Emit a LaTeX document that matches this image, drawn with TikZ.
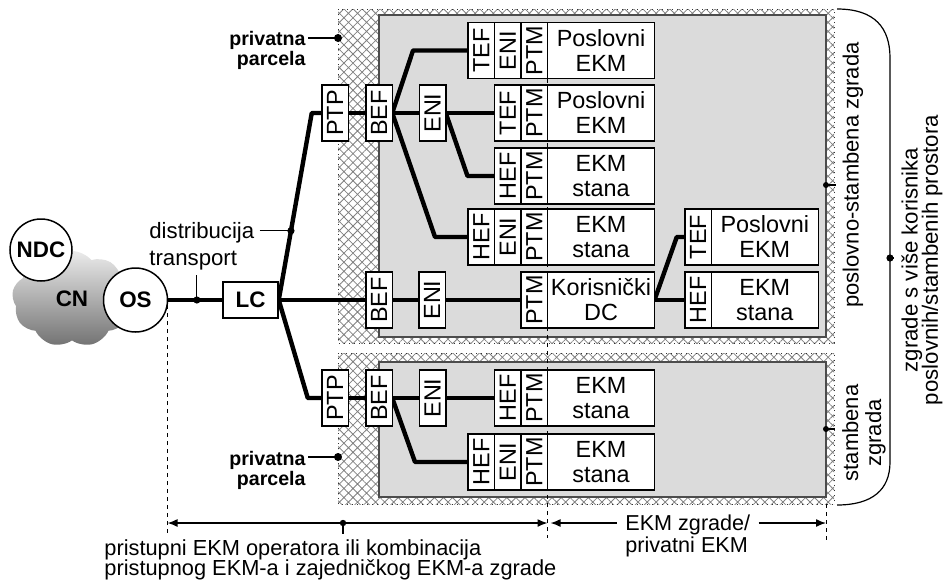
\documentclass[tikz,border=0pt]{standalone}
\usepackage{fontspec}
\setmainfont{Liberation Sans}
\usepackage{graphicx}
\usetikzlibrary{arrows.meta,positioning,shapes.symbols,patterns.meta,calc,backgrounds}
\definecolor{roomgray}{gray}{0.86}
\definecolor{hatchgray}{gray}{0.5}
\definecolor{edgegray}{gray}{0.3}
\newcommand{\vtext}[1]{\rotatebox{90}{#1}}
\newcommand{\tightfont}[2]{\fontsize{#1}{#2}\selectfont\lineskiplimit=-20pt}
\newcommand{\boxfont}{\tightfont{11.7}{12.5}}
\newcommand{\hubfont}{\bfseries\fontsize{11.2}{12}\selectfont}

\begin{document}
\begin{tikzpicture}[x=0.5pt, y=-0.5pt,
        lot/.style={pattern={Hatch[angle=45,distance=3.2pt,line width=0.4pt]}, pattern color=hatchgray},
        lotedge/.style={draw=black!80, line width=0.5pt, dotted},
        room/.style={fill=roomgray, draw=edgegray, line width=0.6pt},
        tag/.style={draw, fill=white, line width=0.75pt, minimum width=13.25pt, minimum height=28pt, inner sep=0pt, outer sep=0pt, font=\boxfont},
        ekm/.style={tag, minimum width=53.5pt, align=center},
        hub/.style={circle, draw, fill=white, line width=0.75pt, minimum size=32pt, inner sep=0pt, font=\hubfont},
        lcbox/.style={draw, fill=white, line width=0.75pt, minimum width=27.5pt, minimum height=18pt, inner sep=0pt, font=\hubfont},
        wire/.style={line width=2.2pt, line join=round},
        leader/.style={line width=0.6pt},
        guide/.style={line width=0.5pt, dash pattern=on 2pt off 2pt},
        dim/.style={line width=0.7pt, >={Latex[length=5pt,width=4pt]}},
        lbl/.style={font=\tightfont{11}{13}},
        parcel/.style={font=\bfseries\tightfont{9.8}{10}, align=right, anchor=east, inner sep=1pt}
    ]
    \useasboundingbox (0,0) rectangle (943,579);

    % parcels and buildings
    \begin{scope}[on background layer]
    \fill[lot] (338,9) rectangle (834,343);
    \draw[lotedge] (338,9) rectangle (834,343);
    \draw[room] (379,15) rectangle (826,337);
    \fill[lot] (338,353) rectangle (834,504);
    \draw[lotedge] (338,353) rectangle (834,504);
    \draw[room] (379,362) rectangle (826,497);
    \draw[guide] (547.5,23) -- (547.5,538);
    \draw[guide] (167.5,305) -- (167.5,535);
    \draw[guide] (826,504) -- (826,540);
    \end{scope}

    % operator side
    \node[cloud, cloud puffs=9, cloud puff arc=100, cloud ignores aspect, minimum width=60pt, minimum height=48pt, top color=black!8, bottom color=black!55, inner sep=0pt, font=\hubfont] (cn) at (72,299) {CN};
    \node[hub, minimum size=31pt] (ndc) at (41,250) {NDC};
    \node[hub] (os) at (135.5,300) {OS};
    \node[lcbox] (lc) at (250.5,300) {LC};

    % entry points
    \node[tag] (ptpU) at (335,113) {\vtext{PTP}};
    \node[tag] (befU) at (379,113) {\vtext{BEF}};
    \node[tag] (eniU) at (432.5,113) {\vtext{ENI}};
    \node[tag] (befM) at (379,300) {\vtext{BEF}};
    \node[tag] (eniM) at (432,300) {\vtext{ENI}};
    \node[tag] (ptpL) at (335,398) {\vtext{PTP}};
    \node[tag] (befL) at (379,398) {\vtext{BEF}};
    \node[tag] (eniL) at (432.5,398) {\vtext{ENI}};

    % premises, upper building
    \node[tag] (tefA) at (481.25,50.5) {\vtext{TEF}};
    \node[tag, right=0pt of tefA] (eniA) {\vtext{ENI}};
    \node[tag, right=0pt of eniA] (ptmA) {\vtext{PTM}};
    \node[ekm, right=0pt of ptmA] (ekmA) {Poslovni\\EKM};

    \node[tag] (tefB) at (507.75,113) {\vtext{TEF}};
    \node[tag, right=0pt of tefB] (ptmB) {\vtext{PTM}};
    \node[ekm, right=0pt of ptmB] (ekmB) {Poslovni\\EKM};

    \node[tag] (hefC) at (507.75,176) {\vtext{HEF}};
    \node[tag, right=0pt of hefC] (ptmC) {\vtext{PTM}};
    \node[ekm, right=0pt of ptmC] (ekmC) {EKM\\stana};

    \node[tag] (hefD) at (481.25,237) {\vtext{HEF}};
    \node[tag, right=0pt of hefD] (eniD) {\vtext{ENI}};
    \node[tag, right=0pt of eniD] (ptmD) {\vtext{PTM}};
    \node[ekm, right=0pt of ptmD] (ekmD) {EKM\\stana};

    \node[tag] (ptmE) at (534.25,300) {\vtext{PTM}};
    \node[ekm, right=0pt of ptmE] (ekmE) {Korisnički\\DC};

    \node[tag] (tefF) at (698,237) {\vtext{TEF}};
    \node[ekm, right=0pt of tefF] (ekmF) {Poslovni\\EKM};
    \node[tag] (hefG) at (698,300) {\vtext{HEF}};
    \node[ekm, right=0pt of hefG] (ekmG) {EKM\\stana};

    % premises, lower building
    \node[tag] (hefH) at (507.75,398) {\vtext{HEF}};
    \node[tag, right=0pt of hefH] (ptmH) {\vtext{PTM}};
    \node[ekm, right=0pt of ptmH] (ekmH) {EKM\\stana};

    \node[tag] (hefI) at (481.25,462) {\vtext{HEF}};
    \node[tag, right=0pt of hefI] (eniI) {\vtext{ENI}};
    \node[tag, right=0pt of eniI] (ptmI) {\vtext{PTM}};
    \node[ekm, right=0pt of ptmI] (ekmI) {EKM\\stana};

    % cabling
    \begin{scope}[on background layer]
    \draw[wire] (lc.east) -- ([xshift=-5pt]ptpU.west) -- (ptpU.west);
    \draw[wire] (lc.east) -- (befM.west);
    \draw[wire] (lc.east) -- ([xshift=-7pt]ptpL.west) -- (ptpL.west);
    \draw[wire] (ptpU) -- (befU) -- (eniU) -- (tefB);
    \draw[wire] (befU.east) -- ([xshift=-27.5pt]tefA.west) -- (tefA.west);
    \draw[wire] (befU.east) -- ([xshift=-16.5pt]hefD.west) -- (hefD.west);
    \draw[wire] (eniU.east) -- ([xshift=-13.5pt]hefC.west) -- (hefC.west);
    \draw[wire] (befM) -- (eniM) -- (ptmE);
    \draw[wire] (ekmE.east) -- ([xshift=-4pt]tefF.west) -- (tefF.west);
    \draw[wire] (ekmE) -- (hefG);
    \draw[wire] (ptpL) -- (befL) -- (eniL) -- (hefH);
    \draw[wire] (befL.east) -- ([xshift=-26.5pt]hefI.west) -- (hefI.west);
    \end{scope}
    \draw[wire] (os) -- (lc);

    % labels on the left
    \node[parcel] (parcU) at (308,50) {privatna\\parcela};
    \coordinate (parcUdot) at (338,38);
    \draw[leader] (parcU.east |- parcUdot) -- (parcUdot);
    \fill (parcUdot) circle (2pt);
    \node[parcel] (parcL) at (308,470) {privatna\\parcela};
    \coordinate (parcLdot) at (338,457);
    \draw[leader] (parcL.east |- parcLdot) -- (parcLdot);
    \fill (parcLdot) circle (2pt);

    \node[font=\tightfont{11.1}{13.3}, align=left, anchor=north west, inner sep=0pt] (distr) at (149,222) {distribucija\\transport};
    \coordinate (distdot) at ($(lc.east)!0.37!([xshift=-5pt]ptpU.west)$);
    \draw[leader] ($(distr.east |- distdot)+(5,0)$) -- (distdot);
    \fill (distdot) circle (1.8pt);
    \coordinate (trdot) at ($(os.east)!0.53!(lc.west)$);
    \draw[leader] (trdot) -- ($(trdot |- distr.south)+(0,5)$);
    \fill (trdot) circle (1.8pt);

    % labels on the right
    \node[lbl, rotate=90] (mixlbl) at (853,175) {poslovno-stambena zgrada};
    \coordinate (mixdot) at (826,185);
    \draw[leader] (mixdot) -- (mixdot -| mixlbl.north);
    \fill (mixdot) circle (1.5pt);
    \node[font=\tightfont{11}{11.5}, rotate=90, align=center] (reslbl) at (864,433) {stambena\\zgrada};
    \coordinate (resdot) at (826,429);
    \draw[leader] (resdot) -- (resdot -| reslbl.north);
    \fill (resdot) circle (1.5pt);

    \coordinate (brT) at (837,9);
    \coordinate (brB) at (837,505);
    \draw[leader] (brT) .. controls (875,9) and (890,28) .. (890,58) -- (890,462) .. controls (890,490) and (872,505) .. (brB);
    \coordinate (brdot) at (890,258);
    \node[font=\tightfont{11.1}{10.2}, rotate=90, align=center] (multilbl) at (922,260) {zgrade s više korisnika\\poslovnih/stambenih prostora};
    \draw[leader] (brdot) -- (brdot -| multilbl.north);
    \fill (brdot) circle (1.8pt);

    % dimension lines
    \coordinate (dimL) at (167.5,523);
    \coordinate (dimM) at (547.5,523);
    \coordinate (dimR) at (826,523);
    \draw[dim, <->] (dimL) -- (dimM);
    \node[font=\tightfont{10.9}{10.3}, align=left, anchor=north west, inner sep=0pt] (acclbl) at (104,539) {pristupni EKM operatora ili kombinacija\\pristupnog EKM-a i zajedničkog EKM-a zgrade};
    \coordinate (accdot) at (343,523);
    \draw[leader] (accdot) -- ($(accdot |- acclbl.north)+(0,-5)$);
    \fill (accdot) circle (1.6pt);
    \node[font=\tightfont{10.8}{11}, align=left, anchor=north west, inner sep=0pt] (bldlbl) at (625,514) {EKM zgrade/\\privatni EKM};
    \draw[dim, <-] ($(dimM)+(3,0)$) -- ($(bldlbl.west |- dimM)+(-8,0)$);
    \draw[dim, ->] ($(bldlbl.east |- dimM)+(8,0)$) -- (dimR);
\end{tikzpicture}
\end{document}
